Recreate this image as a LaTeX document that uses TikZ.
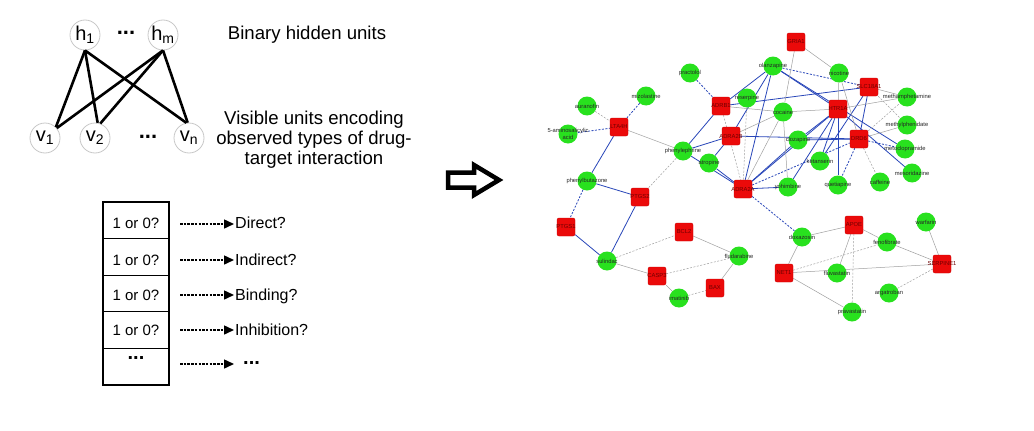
\documentclass[tikz,border=0pt]{standalone}
\usepackage{fontspec}
\setmainfont{Liberation Sans}
\usetikzlibrary{arrows.meta}
\definecolor{ngreen}{RGB}{40,225,30}
\definecolor{nred}{RGB}{235,10,10}
\definecolor{nredborder}{RGB}{205,0,0}
\definecolor{eblue}{RGB}{40,70,185}
\definecolor{egray}{RGB}{160,160,160}
\definecolor{ucirc}{RGB}{200,200,200}
\definecolor{redtext}{RGB}{110,0,0}
\pgfdeclarelayer{bottom}
\pgfdeclarelayer{edges}
\pgfdeclarelayer{fg}
\pgfsetlayers{bottom,edges,main,fg}
\tikzset{
 unit/.style={circle,draw=ucirc,line width=0.8pt,minimum size=30pt,inner sep=0pt,font=\fontsize{20}{24}\selectfont},
 rbm/.style={line width=2.6pt,black},
 dots/.style={font=\fontsize{22}{24}\selectfont\bfseries,inner sep=0pt},
 drug/.style={circle,fill=ngreen,minimum size=19pt,inner sep=0pt},
 target/.style={rectangle,rounded corners=2pt,fill=nred,draw=nredborder,line width=0.4pt,minimum size=18pt,inner sep=0pt},
 dlab/.style={font=\fontsize{5.8}{6.2}\selectfont,text=black!85,align=center,inner sep=0pt},
 tlab/.style={font=\fontsize{5.8}{6.2}\selectfont,text=redtext,inner sep=0pt},
 bs/.style={draw=eblue,line width=0.8pt},
 bd/.style={draw=eblue,line width=0.8pt,dash pattern=on 2pt off 1.5pt},
 gs/.style={draw=egray,line width=0.5pt},
 gd/.style={draw=egray,line width=0.5pt,dash pattern=on 2pt off 1.5pt},
 cell/.style={rectangle,draw=black,line width=1.2pt,minimum width=66pt,minimum height=36.6pt,inner sep=0pt},
 celltext/.style={font=\fontsize{15}{18}\selectfont,inner sep=0pt},
 outlab/.style={font=\fontsize{16}{19}\selectfont,anchor=west,inner sep=0pt},
 outarrow/.style={line width=1.5pt,dash pattern=on 2.5pt off 1.2pt,-{Triangle[length=10pt,width=9pt]}},
 bigtext/.style={font=\fontsize{18.6}{20}\selectfont,align=center,inner sep=0pt},
}
\newcommand\mkdrug[3]{\node[drug] (#1) at (#2) {};\begin{pgfonlayer}{fg}\node[dlab] (#1l) at (#1) {#3};\end{pgfonlayer}}
\newcommand\mktarget[3]{\node[target] (#1) at (#2) {};\begin{pgfonlayer}{fg}\node[tlab] (#1l) at (#1) {#3};\end{pgfonlayer}}
\begin{document}
\begin{tikzpicture}[x=1pt,y=-1pt]
\begin{pgfonlayer}{bottom}
\fill[white] (0,0) rectangle (1034,431);
\end{pgfonlayer}
\useasboundingbox (0,0) rectangle (1034,431);
% ---------------- RBM ----------------
\node[unit] (h1) at (85,35) {h\textsubscript{1}};
\node[unit] (hm) at (163,35) {h\textsubscript{m}};
\node[dots] (hdots) at (126,33) {...};
\node[unit] (v1) at (45,138) {v\textsubscript{1}};
\node[unit] (v2) at (95,138) {v\textsubscript{2}};
\node[unit] (vn) at (189,138) {v\textsubscript{n}};
\node[dots] (vdots) at (148,137) {...};
\draw[rbm] (h1.south) -- (v1.45);
\draw[rbm] (h1.south) -- (v2.80);
\draw[rbm] (h1.south) -- (vn.100);
\draw[rbm] (hm.south) -- (v1.40);
\draw[rbm] (hm.south) -- (v2.70);
\draw[rbm] (hm.south) -- (vn.95);
\node[bigtext] (hidtxt) at (307,35) {Binary hidden units};
\node[bigtext] (vistxt) at (314,140) {Visible units encoding\\observed types of drug-\\target interaction};
% ---------------- table ----------------
\node[cell] (r1) at (136,220.3) {};
\node[cell] (r2) at (136,256.9) {};
\node[cell] (r3) at (136,293.5) {};
\node[cell] (r4) at (136,330.1) {};
\node[cell] (r5) at (136,366.7) {};
\node[celltext] (t1) at (136,223) {1 or 0?};
\node[celltext] (t2) at (136,260) {1 or 0?};
\node[celltext] (t3) at (136,295) {1 or 0?};
\node[celltext] (t4) at (136,330) {1 or 0?};
\node[dots,font=\fontsize{20}{22}\selectfont\bfseries] (t5) at (136,358) {...};
\node[outlab] (l1) at (235,223) {Direct?};
\node[outlab] (l2) at (235,260) {Indirect?};
\node[outlab] (l3) at (235,296) {Binding?};
\node[outlab] (l4) at (235,330) {Inhibition?};
\node[dots,anchor=west,font=\fontsize{20}{22}\selectfont\bfseries] (l5) at (243,363) {...};
\coordinate (a1) at (180,224);
\coordinate (a2) at (180,260);
\coordinate (a3) at (180,295);
\coordinate (a4) at (180,330);
\coordinate (a5) at (180,364);
\coordinate (e1) at (234,224);
\coordinate (e2) at (234,260);
\coordinate (e3) at (234,295);
\coordinate (e4) at (234,330);
\coordinate (e5) at (234,364);
\draw[outarrow] (a1) -- (e1);
\draw[outarrow] (a2) -- (e2);
\draw[outarrow] (a3) -- (e3);
\draw[outarrow] (a4) -- (e4);
\draw[outarrow] (a5) -- (e5);
% ---------------- big arrow ----------------
\draw[line width=4.5pt,line join=miter] (448,172.5) -- (474,172.5) -- (474,165) -- (499,180) -- (474,195) -- (474,187.5) -- (448,187.5) -- cycle;
% ---------------- network nodes ----------------
\mkdrug{practolol}{690,73}{practolol}
\mkdrug{auranofin}{587,106}{auranofin}
\mkdrug{mizolastine}{646,96}{mizolastine}
\mkdrug{aminosal}{568,134}{5-aminosalicylic\\acid}
\mkdrug{phenylephrine}{683,151}{phenylephrine}
\mkdrug{atropine}{709,163}{atropine}
\mkdrug{olanzapine}{773,66}{olanzapine}
\mkdrug{nicotine}{839,73}{nicotine}
\mkdrug{reserpine}{747,98}{reserpine}
\mkdrug{cocaine}{783,112}{cocaine}
\mkdrug{clozapine}{798,140}{clozapine}
\mkdrug{ketanserin}{820,161}{ketanserin}
\mkdrug{yohimbine}{788,187}{yohimbine}
\mkdrug{quetiapine}{838,185}{quetiapine}
\mkdrug{caffeine}{880,182}{caffeine}
\mkdrug{methamphetamine}{907,97}{methamphetamine}
\mkdrug{methylphenidate}{907,125}{methylphenidate}
\mkdrug{metoclopramide}{905,149}{metoclopramide}
\mkdrug{mesoridazine}{912,173}{mesoridazine}
\mkdrug{phenylbutazone}{587,181}{phenylbutazone}
\mkdrug{sulindac}{607,261}{sulindac}
\mkdrug{fludarabine}{739,256}{fludarabine}
\mkdrug{imatinib}{679,298}{imatinib}
\mkdrug{doxazosin}{802,237}{doxazosin}
\mkdrug{fenofibrate}{887,242}{fenofibrate}
\mkdrug{warfarin}{926,222}{warfarin}
\mkdrug{fluvastatin}{837,273}{fluvastatin}
\mkdrug{argatroban}{889,293}{argatroban}
\mkdrug{pravastatin}{852,312}{pravastatin}
\mktarget{GRIA1}{796,42}{GRIA1}
\mktarget{LTA4H}{619,127}{LTA4H}
\mktarget{ADRB1}{721,106}{ADRB1}
\mktarget{ADRA2B}{731,136}{ADRA2B}
\mktarget{ADRA2A}{743,189}{ADRA2A}
\mktarget{HTR1A}{838,109}{HTR1A}
\mktarget{SLC18A1}{869,87}{SLC18A1}
\mktarget{DRD}{859,139}{DRD6}
\mktarget{PTGS2}{640,197}{PTGS2}
\mktarget{PTGS1}{566,227}{PTGS1}
\mktarget{BCL2}{684,232}{BCL2}
\mktarget{CASP3}{657,276}{CASP3}
\mktarget{BAX}{715,288}{BAX}
\mktarget{APOE}{854,225}{APOE}
\mktarget{NET1}{784,273}{NET1}
\mktarget{SERPINE1}{942,264}{SERPINE1}
% ---------------- network edges ----------------
\begin{pgfonlayer}{edges}
% blue solid
\draw[bs] (LTA4H) -- (phenylbutazone);
\draw[bs] (phenylbutazone) -- (PTGS2);
\draw[bs] (PTGS1) -- (sulindac);
\draw[bs] (PTGS2) -- (sulindac);
\draw[bs] (olanzapine) -- (ADRB1);
\draw[bs] (olanzapine) -- (ADRA2B);
\draw[bs] (olanzapine) -- (ADRA2A);
\draw[bs] (olanzapine) -- (HTR1A);
\draw[bs] (olanzapine) -- (metoclopramide);
\draw[bs] (ADRB1) -- (phenylephrine);
\draw[bs] (ADRB1) -- (SLC18A1);
\draw[bs] (ADRA2B) -- (phenylephrine);
\draw[bs] (ADRA2B) -- (atropine);
\draw[bs] (ADRA2B) -- (DRD);
\draw[bs] (phenylephrine) -- (ADRA2A);
\draw[bs] (atropine) -- (ADRA2A);
\draw[bs] (ADRA2A) -- (clozapine);
\draw[bs] (ADRA2A) -- (yohimbine);
\draw[bs] (ADRA2A) -- (HTR1A);
\draw[bs] (clozapine) -- (HTR1A);
\draw[bs] (clozapine) -- (DRD);
\draw[bs] (HTR1A) -- (ketanserin);
\draw[bs] (HTR1A) -- (quetiapine);
\draw[bs] (HTR1A) -- (yohimbine);
\draw[bs] (HTR1A) -- (mesoridazine);
\draw[bs] (SLC18A1) -- (ketanserin);
\draw[bs] (SLC18A1) -- (DRD);
% blue dashed
\draw[bd] (mizolastine) -- (LTA4H);
\draw[bd] (aminosal) -- (LTA4H);
\draw[bd] (practolol) -- (ADRB1);
\draw[bd] (phenylbutazone) -- (PTGS1);
\draw[bd] (ADRA2A) -- (doxazosin);
\draw[bd] (DRD) -- (metoclopramide);
\draw[bd] (DRD) -- (quetiapine);
\draw[bd] (ADRA2A) -- (DRD);
\draw[bd] (olanzapine) -- (SLC18A1);
% gray solid
\draw[gs] (LTA4H) -- (phenylephrine);
\draw[gs] (GRIA1) -- (cocaine);
\draw[gs] (GRIA1) -- (nicotine);
\draw[gs] (ADRB1) -- (cocaine);
\draw[gs] (cocaine) -- (HTR1A);
\draw[gs] (cocaine) -- (ADRA2B);
\draw[gs] (cocaine) -- (yohimbine);
\draw[gs] (cocaine) -- (ADRA2A);
\draw[gs] (nicotine) -- (HTR1A);
\draw[gs] (nicotine) -- (DRD);
\draw[gs] (HTR1A) -- (methamphetamine);
\draw[gs] (SLC18A1) -- (methamphetamine);
\draw[gs] (DRD) -- (methylphenidate);
\draw[gs] (sulindac) -- (CASP3);
\draw[gs] (BCL2) -- (fludarabine);
\draw[gs] (CASP3) -- (imatinib);
\draw[gs] (BAX) -- (fludarabine);
\draw[gs] (doxazosin) -- (APOE);
\draw[gs] (doxazosin) -- (NET1);
\draw[gs] (APOE) -- (fenofibrate);
\draw[gs] (APOE) -- (fluvastatin);
\draw[gs] (NET1) -- (SERPINE1);
\draw[gs] (NET1) -- (pravastatin);
\draw[gs] (fenofibrate) -- (SERPINE1);
\draw[gs] (warfarin) -- (SERPINE1);
% gray dashed
\draw[gd] (auranofin) -- (LTA4H);
\draw[gd] (PTGS2) -- (phenylephrine);
\draw[gd] (sulindac) -- (BCL2);
\draw[gd] (CASP3) -- (fludarabine);
\draw[gd] (imatinib) -- (BAX);
\draw[gd] (APOE) -- (pravastatin);
\draw[gd] (NET1) -- (fenofibrate);
\draw[gd] (argatroban) -- (SERPINE1);
\draw[gd] (reserpine) -- (ADRA2A);
\draw[gd] (ADRB1) -- (ADRA2A);
\draw[gd] (SLC18A1) -- (methylphenidate);
\draw[gd] (DRD) -- (caffeine);
\draw[gd] (DRD) -- (methamphetamine);
\end{pgfonlayer}
\end{tikzpicture}
\end{document}
